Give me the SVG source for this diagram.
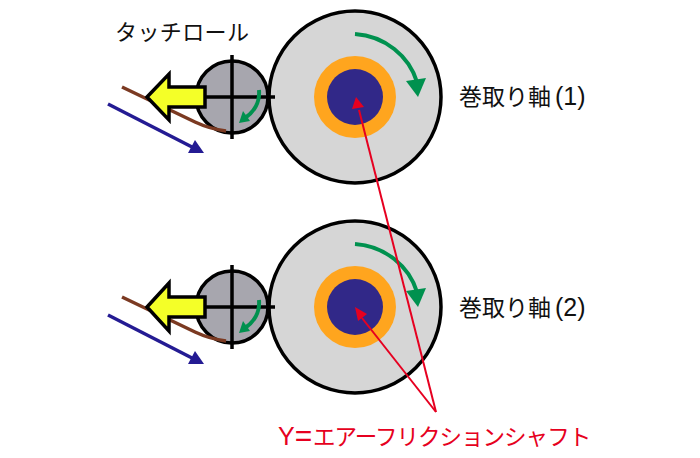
<svg xmlns="http://www.w3.org/2000/svg" width="700" height="458" viewBox="0 0 700 458">
<style>
.big{fill:#d6d6d6;stroke:#000;stroke-width:3.5}
.small{fill:#a7a6ae;stroke:#000;stroke-width:3.5}
.cross{fill:none;stroke:#000;stroke-width:3.5}
.ring{fill:#ffa51e}
.core{fill:#312888}
.g{fill:none;stroke:#00914f;stroke-width:4}
.gh{fill:#00914f}
.brown{fill:none;stroke:#7b3a22;stroke-width:3.5}
.navy{stroke:#241b93;stroke-width:3.5;fill:none}
.navyh{fill:#241b93}
.yel{fill:#f4ff28;stroke:#000;stroke-width:3.5;stroke-linejoin:miter}
.red{stroke:#e60020;stroke-width:2;fill:none}
.redh{fill:#e60020}
text{font-family:"Noto Sans CJK JP","Noto Sans",sans-serif;font-size:23px;fill:#111}
.lat{font-family:"Liberation Sans",sans-serif;font-size:25px}
</style>
<g id="shaft1">
<circle class="big" cx="355" cy="97" r="86"/>
<circle class="ring" cx="355" cy="97" r="41"/>
<circle class="core" cx="355" cy="97" r="28"/>
<path class="g" d="M355 34C385 36 409 56 417 82"/>
<path class="gh" d="M406 81L426 78L418 97Z"/>
</g>
<g id="roll1">
<circle class="small" cx="232" cy="97" r="36"/>
<path class="cross" d="M232 55V139M205 97H275"/>
<path class="g" d="M259 90C260 102 254 112 245 118"/>
<path class="gh" d="M239 123L250 121L243 111Z"/>
</g>
<g id="shaft2">
<circle class="big" cx="355" cy="307" r="86"/>
<circle class="ring" cx="355" cy="307" r="41"/>
<circle class="core" cx="355" cy="307" r="28"/>
<path class="g" d="M355 244C385 246 409 266 417 292"/>
<path class="gh" d="M406 291L426 288L418 307Z"/>
</g>
<g id="roll2">
<circle class="small" cx="232" cy="307" r="36"/>
<path class="cross" d="M232 265V349M205 307H275"/>
<path class="g" d="M259 300C260 312 254 322 245 328"/>
<path class="gh" d="M239 333L250 331L243 321Z"/>
</g>
<g id="connectors">
<path class="brown" d="M122 87L195 122Q210 129 226 131"/>
<path class="navy" d="M108 104L192 147"/>
<path class="navyh" d="M204 153L188 153L195 140Z"/>
<path class="yel" d="M147 97L169 74V87H205V107H169V120Z"/>
<path class="brown" d="M122 297L195 332Q210 339 226 341"/>
<path class="navy" d="M108 315L192 358"/>
<path class="navyh" d="M204 364L188 364L195 351Z"/>
<path class="yel" d="M147 307L169 283V297H205V317H169V331Z"/>
<path class="red" d="M436 412L359 110"/>
<path class="redh" d="M356 97L352 109L364 107Z"/>
<path class="red" d="M436 412L362 318"/>
<path class="redh" d="M355 307L358 321L367 314Z"/>
</g>
<g id="labels">
<text x="115" y="40" textLength="134" style="font-size:22px">タッチロール</text>
<text x="459" y="105">巻取り軸<tspan class="lat" x="555">(1)</tspan></text>
<text x="459" y="316">巻取り軸<tspan class="lat" x="555">(2)</tspan></text>
<text x="278" y="445" style="fill:#e60020;font-size:22.5px;letter-spacing:-0.97px"><tspan class="lat" style="font-size:25px;letter-spacing:0">Y</tspan><tspan class="lat" style="font-size:30px;letter-spacing:0" dy="1">=</tspan><tspan x="313" dy="-1">エアーフリクションシャフト</tspan></text>
</g>
</svg>
